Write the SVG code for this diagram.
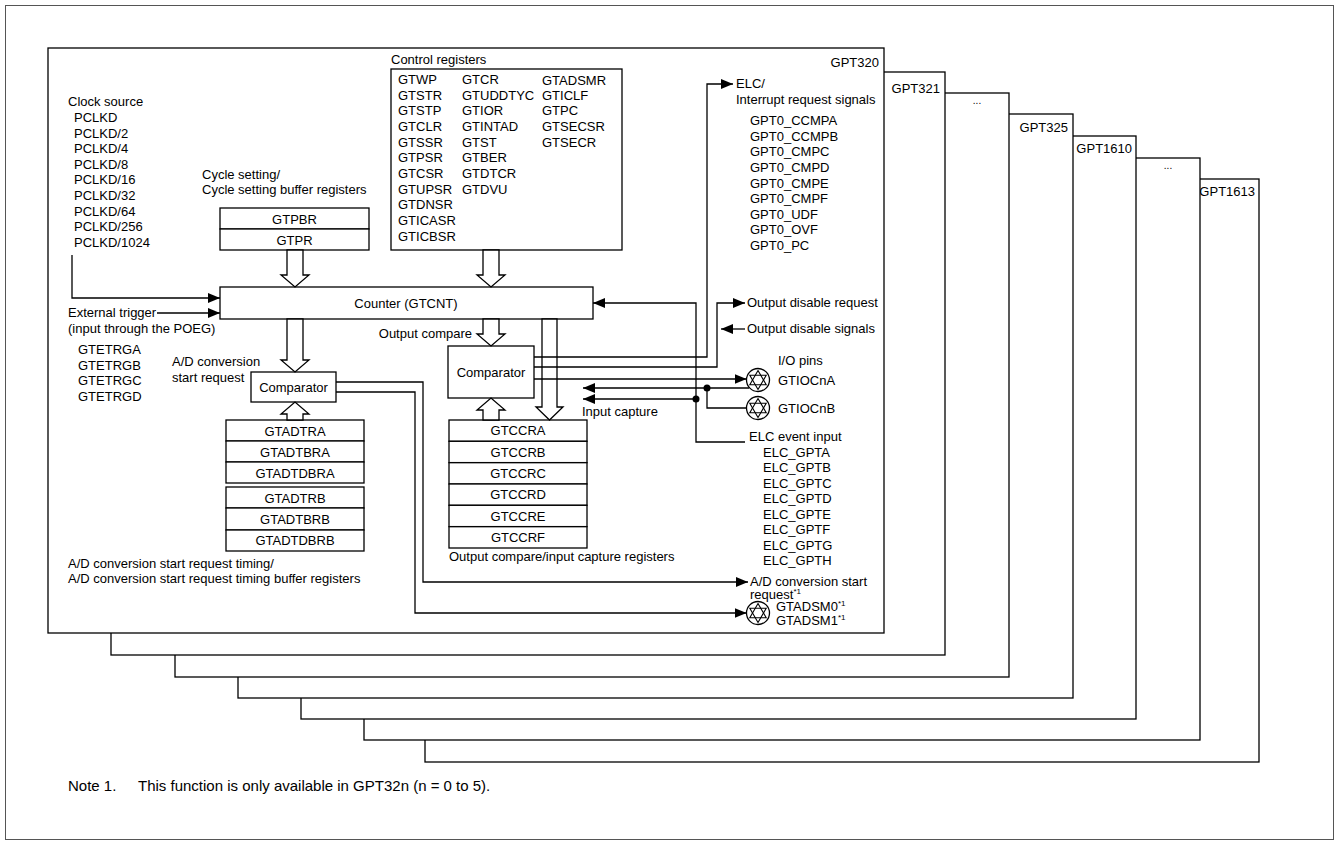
<svg xmlns="http://www.w3.org/2000/svg" width="1339" height="845" viewBox="0 0 1339 845">
<style>
text { font-family: "Liberation Sans", Arial, sans-serif; font-size: 13px; fill: #000; }
.mid { text-anchor: middle; }
.end { text-anchor: end; }
.dots { font-size: 10px; text-anchor: middle; }
.note { font-size: 15px; }
.frame { fill: #fff; stroke: #000; stroke-width: 1.3; }
.outer { fill: #fff; stroke: #555; stroke-width: 1; }
.box { fill: #fff; stroke: #000; stroke-width: 1.3; }
.hollow { fill: #fff; stroke: #000; stroke-width: 1.3; stroke-linejoin: miter; }
.wire { fill: none; stroke: #000; stroke-width: 1.3; }
.pin { fill: #fff; stroke: #000; stroke-width: 1.3; }
.tri { fill: none; stroke: #000; stroke-width: 1.1; }
.sup { font-size: 8px; }
</style>
<defs>
<marker id="ah" viewBox="0 0 12 10" refX="12" refY="5" markerWidth="12" markerHeight="10" markerUnits="userSpaceOnUse" orient="auto"><path d="M0,0 L12,5 L0,10 z" fill="#000"/></marker>
<g id="pinsym">
<circle r="11.5" class="pin"/>
<polygon class="tri" points="0,-9.5 8.2,4.75 -8.2,4.75"/>
<polygon class="tri" points="0,9.5 8.2,-4.75 -8.2,-4.75"/>
</g>
</defs>

<rect x="5.5" y="5.5" width="1328" height="834" class="outer"/>

<g id="frames">
<rect class="frame" x="425" y="179" width="834" height="583"/>
<text class="end" x="1255" y="196">GPT1613</text>
<rect class="frame" x="364" y="158" width="836" height="582"/>
<text class="dots" x="1168" y="169">...</text>
<rect class="frame" x="301" y="136" width="835" height="583"/>
<text class="end" x="1132" y="153">GPT1610</text>
<rect class="frame" x="238" y="114" width="835" height="584"/>
<text class="end" x="1068" y="132">GPT325</text>
<rect class="frame" x="175" y="93" width="834" height="584"/>
<text class="dots" x="977" y="104">...</text>
<rect class="frame" x="111" y="72" width="834" height="583"/>
<text class="end" x="940" y="93">GPT321</text>
<rect class="frame" x="48" y="48" width="836" height="585"/>
<text class="end" x="879" y="67">GPT320</text>
</g>

<g id="clock-source">
<text x="68" y="106">Clock source</text>
<text x="74" y="122">PCLKD</text>
<text x="74" y="137.6">PCLKD/2</text>
<text x="74" y="153.2">PCLKD/4</text>
<text x="74" y="168.8">PCLKD/8</text>
<text x="74" y="184.4">PCLKD/16</text>
<text x="74" y="200">PCLKD/32</text>
<text x="74" y="215.6">PCLKD/64</text>
<text x="74" y="231.2">PCLKD/256</text>
<text x="74" y="246.8">PCLKD/1024</text>
</g>

<g id="external-trigger">
<text x="68" y="317">External trigger</text>
<text x="68" y="333">(input through the POEG)</text>
<text x="78" y="354">GTETRGA</text>
<text x="78" y="370">GTETRGB</text>
<text x="78" y="385">GTETRGC</text>
<text x="78" y="401">GTETRGD</text>
</g>

<g id="cycle-setting">
<text x="202" y="179">Cycle setting/</text>
<text x="202" y="194">Cycle setting buffer registers</text>
<rect class="box" x="220" y="208" width="149" height="21"/>
<rect class="box" x="220" y="229" width="149" height="21"/>
<text class="mid" x="294.5" y="223.5">GTPBR</text>
<text class="mid" x="294.5" y="244.5">GTPR</text>
</g>

<g id="control-registers">
<text x="391" y="64">Control registers</text>
<rect class="box" x="391" y="69" width="231" height="181"/>
<text x="398" y="84">GTWP</text>
<text x="398" y="99.6">GTSTR</text>
<text x="398" y="115.3">GTSTP</text>
<text x="398" y="130.9">GTCLR</text>
<text x="398" y="146.6">GTSSR</text>
<text x="398" y="162.2">GTPSR</text>
<text x="398" y="177.9">GTCSR</text>
<text x="398" y="193.5">GTUPSR</text>
<text x="398" y="209.2">GTDNSR</text>
<text x="398" y="224.8">GTICASR</text>
<text x="398" y="240.5">GTICBSR</text>
<text x="462" y="84">GTCR</text>
<text x="462" y="99.6">GTUDDTYC</text>
<text x="462" y="115.3">GTIOR</text>
<text x="462" y="130.9">GTINTAD</text>
<text x="462" y="146.6">GTST</text>
<text x="462" y="162.2">GTBER</text>
<text x="462" y="177.9">GTDTCR</text>
<text x="462" y="193.5">GTDVU</text>
<text x="542" y="85">GTADSMR</text>
<text x="542" y="99.6">GTICLF</text>
<text x="542" y="115.3">GTPC</text>
<text x="542" y="130.9">GTSECSR</text>
<text x="542" y="146.6">GTSECR</text>
</g>

<g id="counter">
<rect class="box" x="220" y="287" width="373" height="32"/>
<text class="mid" x="406" y="307.5">Counter (GTCNT)</text>
</g>

<g id="comparator-ad">
<text x="172" y="366">A/D conversion</text>
<text x="172" y="382">start request</text>
<rect class="box" x="251" y="372" width="85" height="30"/>
<text class="mid" x="293.5" y="391.5">Comparator</text>
</g>

<g id="adt-registers">
<rect class="box" x="226" y="420" width="138" height="21"/>
<rect class="box" x="226" y="441" width="138" height="21"/>
<rect class="box" x="226" y="462" width="138" height="21"/>
<rect class="box" x="226" y="487" width="138" height="21"/>
<rect class="box" x="226" y="508" width="138" height="22"/>
<rect class="box" x="226" y="530" width="138" height="21"/>
<text class="mid" x="295" y="435.5">GTADTRA</text>
<text class="mid" x="295" y="456.5">GTADTBRA</text>
<text class="mid" x="295" y="477.5">GTADTDBRA</text>
<text class="mid" x="295" y="502.5">GTADTRB</text>
<text class="mid" x="295" y="523.5">GTADTBRB</text>
<text class="mid" x="295" y="545">GTADTDBRB</text>
<text x="68" y="568">A/D conversion start request timing/</text>
<text x="68" y="583">A/D conversion start request timing buffer registers</text>
</g>

<g id="comparator-oc">
<text class="end" x="472" y="338">Output compare</text>
<rect class="box" x="448" y="346" width="86" height="52"/>
<text class="mid" x="491" y="376.5">Comparator</text>
</g>

<g id="gtccr-registers">
<rect class="box" x="449" y="420" width="138" height="21.3"/>
<rect class="box" x="449" y="441.3" width="138" height="21.3"/>
<rect class="box" x="449" y="462.7" width="138" height="21.3"/>
<rect class="box" x="449" y="484" width="138" height="21.3"/>
<rect class="box" x="449" y="505.3" width="138" height="21.3"/>
<rect class="box" x="449" y="526.7" width="138" height="21.3"/>
<text class="mid" x="518" y="435.3">GTCCRA</text>
<text class="mid" x="518" y="456.6">GTCCRB</text>
<text class="mid" x="518" y="478">GTCCRC</text>
<text class="mid" x="518" y="499.3">GTCCRD</text>
<text class="mid" x="518" y="520.6">GTCCRE</text>
<text class="mid" x="518" y="542">GTCCRF</text>
<text x="449" y="561">Output compare/input capture registers</text>
</g>

<g id="elc-interrupt">
<text x="736" y="88">ELC/</text>
<text x="736" y="104">Interrupt request signals</text>
<text x="750" y="125">GPT0_CCMPA</text>
<text x="750" y="141">GPT0_CCMPB</text>
<text x="750" y="156">GPT0_CMPC</text>
<text x="750" y="172">GPT0_CMPD</text>
<text x="750" y="188">GPT0_CMPE</text>
<text x="750" y="203">GPT0_CMPF</text>
<text x="750" y="219">GPT0_UDF</text>
<text x="750" y="234">GPT0_OVF</text>
<text x="750" y="250">GPT0_PC</text>
</g>

<g id="output-disable">
<text x="747" y="307">Output disable request</text>
<text x="747" y="333">Output disable signals</text>
</g>

<g id="io-pins">
<text x="778" y="365">I/O pins</text>
<use href="#pinsym" x="758" y="380"/>
<text x="778" y="384.5">GTIOCnA</text>
<use href="#pinsym" x="758" y="408"/>
<text x="778" y="412.5">GTIOCnB</text>
<text x="582" y="416">Input capture</text>
</g>

<g id="elc-event-input">
<text x="749" y="441">ELC event input</text>
<text x="763" y="457">ELC_GPTA</text>
<text x="763" y="472">ELC_GPTB</text>
<text x="763" y="487.5">ELC_GPTC</text>
<text x="763" y="503">ELC_GPTD</text>
<text x="763" y="518.5">ELC_GPTE</text>
<text x="763" y="534">ELC_GPTF</text>
<text x="763" y="549.5">ELC_GPTG</text>
<text x="763" y="565">ELC_GPTH</text>
</g>

<g id="ad-outputs">
<text x="750" y="586">A/D conversion start</text>
<text x="750" y="598.5">request<tspan class="sup" dy="-5">*1</tspan></text>
<use href="#pinsym" x="758" y="613"/>
<text x="776" y="610.5">GTADSM0<tspan class="sup" dy="-5">*1</tspan></text>
<text x="776" y="625">GTADSM1<tspan class="sup" dy="-5">*1</tspan></text>
</g>

<g id="connectors">
<polygon class="hollow" points="287,250 303,250 303,275 309,275 295,287 281,275 287,275"/>
<polygon class="hollow" points="483,250 499,250 499,275 505,275 491,287 477,275 483,275"/>
<polygon class="hollow" points="287,319 303,319 303,360 309,360 295,372 281,360 287,360"/>
<polygon class="hollow" points="483,319 499,319 499,334 505,334 491,346 477,334 483,334"/>
<polygon class="hollow" points="542,319 557,319 557,407 563,407 549.5,420 536,407 542,407"/>
<polygon class="hollow" points="287,420 303,420 303,414 309,414 295,402 281,414 287,414"/>
<polygon class="hollow" points="483,420 499,420 499,410 505,410 491,398 477,410 483,410"/>

<path class="wire" d="M72,255 V298 H220" marker-end="url(#ah)"/>
<path class="wire" d="M157,313 H220" marker-end="url(#ah)"/>
<path class="wire" d="M534,357 H707 V84 H733" marker-end="url(#ah)"/>
<path class="wire" d="M534,367 H717 V303 H745" marker-end="url(#ah)"/>
<path class="wire" d="M745,329 H721" marker-end="url(#ah)"/>
<path class="wire" d="M534,379 H746.5" marker-end="url(#ah)"/>
<path class="wire" d="M749,388 H583" marker-end="url(#ah)"/>
<path class="wire" d="M707,388 V408 H746.5"/>
<path class="wire" d="M696,399 H583" marker-end="url(#ah)"/>
<path class="wire" d="M745,442 H696 V303 H593" marker-end="url(#ah)"/>
<path class="wire" d="M336,382 H423 V582 H748" marker-end="url(#ah)"/>
<path class="wire" d="M336,392 H415 V613 H746.5" marker-end="url(#ah)"/>
<circle cx="707" cy="388" r="3.5" fill="#000"/>
<circle cx="696" cy="399" r="3.5" fill="#000"/>
</g>

<g id="note">
<text class="note" x="68" y="791">Note 1.</text>
<text class="note" x="138" y="791">This function is only available in GPT32n (n = 0 to 5).</text>
</g>
</svg>
